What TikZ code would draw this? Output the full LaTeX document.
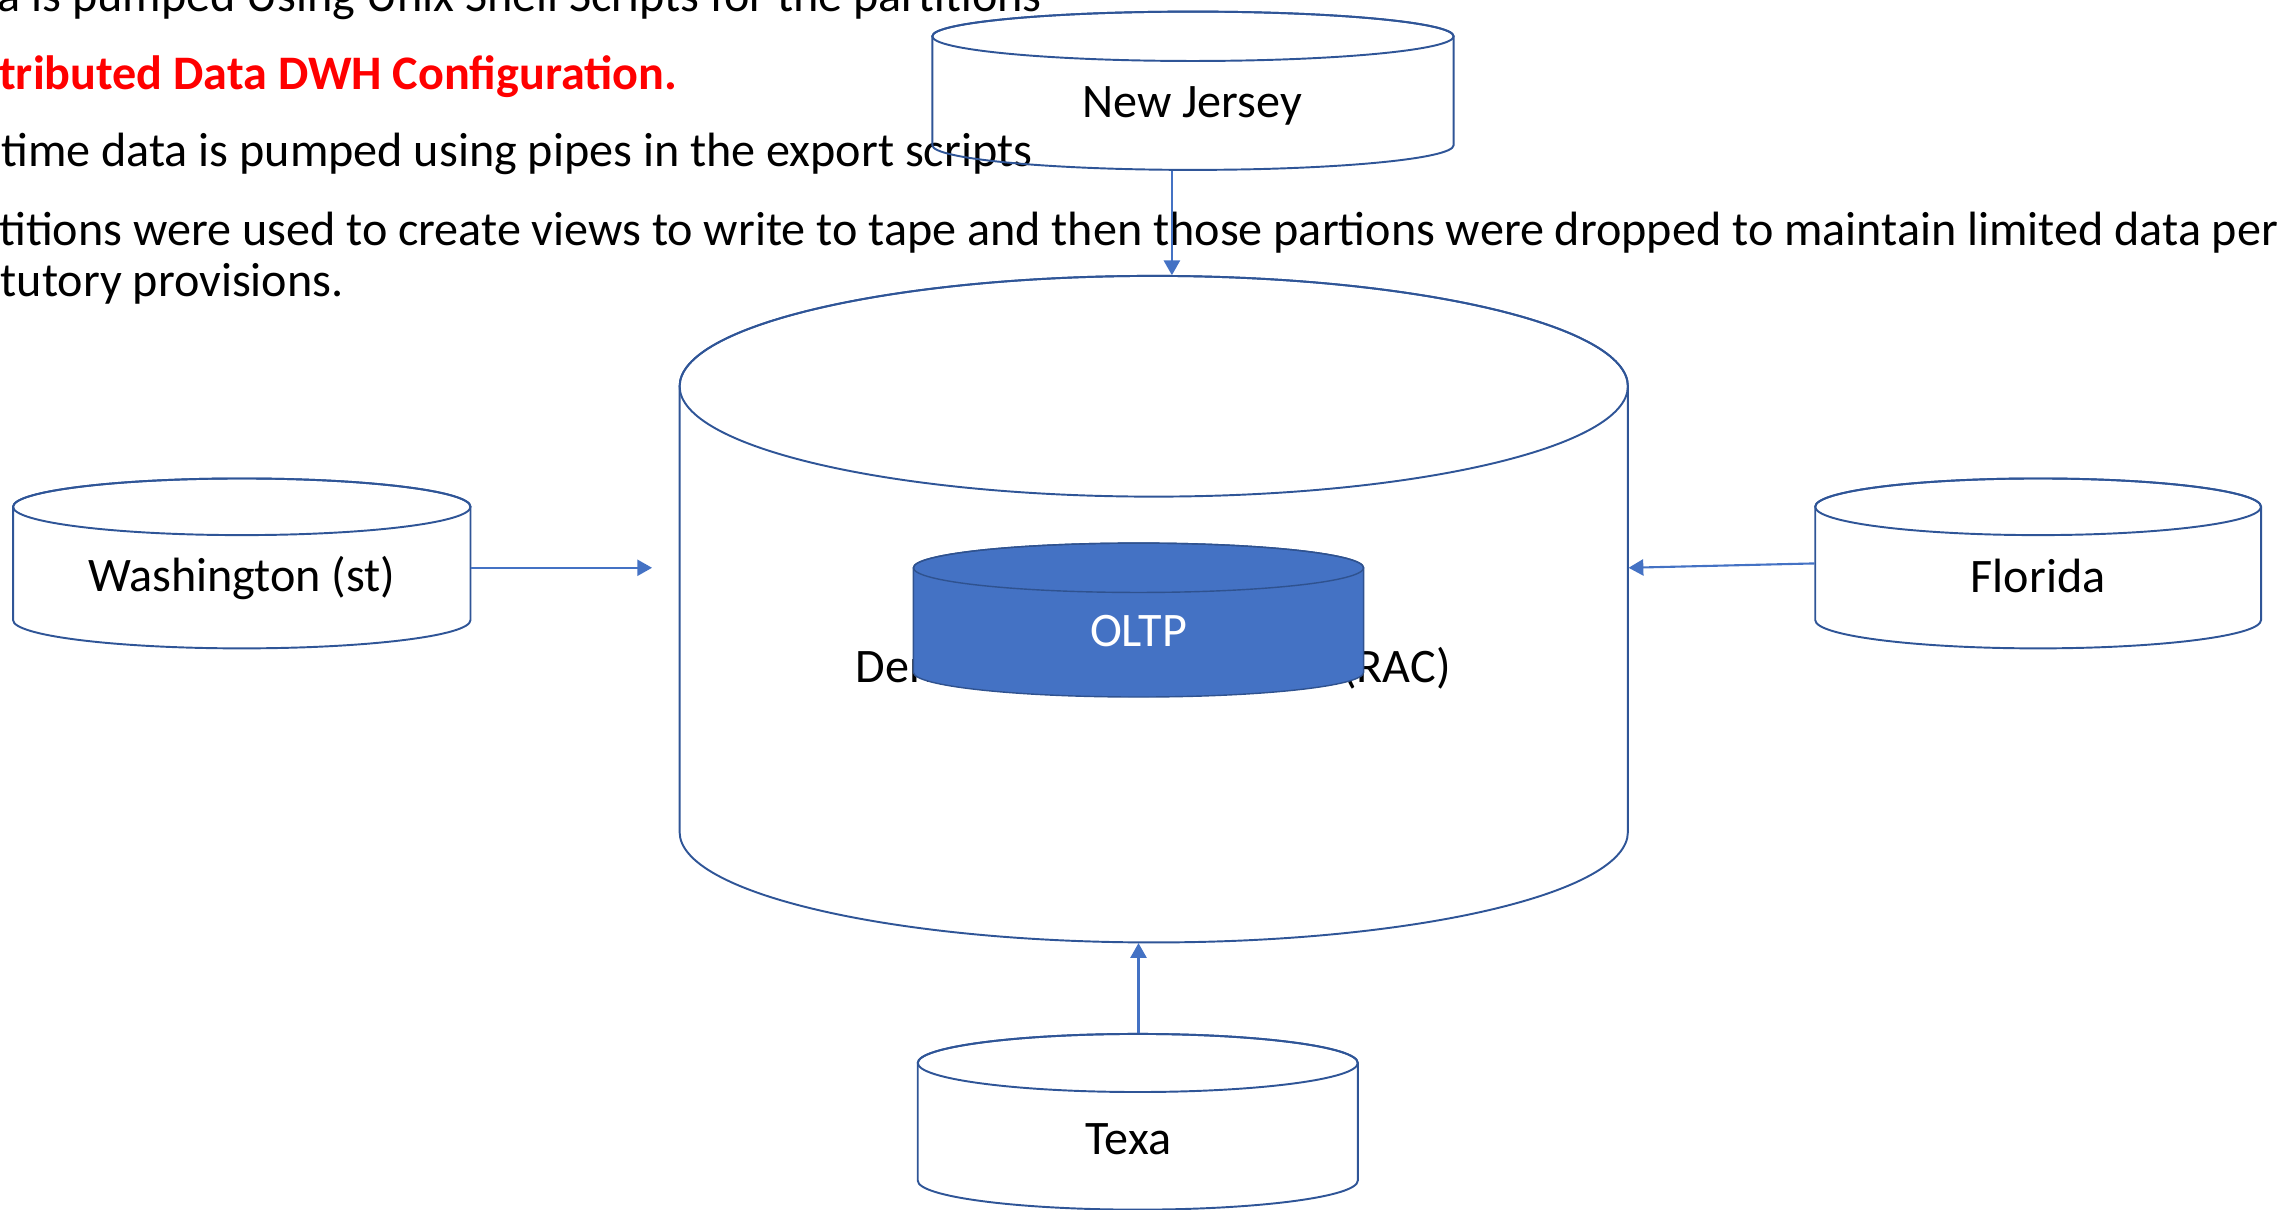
\documentclass[tikz,border=0pt]{standalone}
\usepackage{fontspec}
\setmainfont{Carlito}
\usetikzlibrary{arrows.meta,fit}

\definecolor{cylline}{HTML}{2F5597}
\definecolor{flowblue}{HTML}{4472C4}
\definecolor{oltpfill}{HTML}{4472C4}
\definecolor{oltpedge}{HTML}{2F528F}
\definecolor{headred}{HTML}{FF0000}

% database cylinder: [style] {name} {left} {right} {top centre y} {bottom centre y} {y radius}
\newcommand\dbcylinder[7][]{%
  \pgfmathsetmacro\dbcx{(#3+#4)/2}%
  \pgfmathsetmacro\dbrx{(#4-#3)/2}%
  \path[cyl,#1] (#3,#5) -- (#3,#6)
     arc[start angle=180,end angle=0,x radius=\dbrx,y radius=#7] -- (#4,#5)
     arc[start angle=360,end angle=180,x radius=\dbrx,y radius=#7] -- cycle;
  \path[cyl,#1,fill=none] (\dbcx,#5) ellipse[x radius=\dbrx,y radius=#7];
  \node[fit={(#3,{#5-#7}) (#4,{#6+#7})},inner sep=0pt,draw=none] (#2) {};
}

\begin{document}
\begin{tikzpicture}[x=0.014522cm,y=-0.014522cm,
  cyl/.style={draw=cylline,line width=0.55pt},
  txt/.style={inner sep=0pt,font=\fontsize{13.7}{16}\selectfont},
  flow/.style={draw=flowblue,line width=0.6pt,
    -{Triangle[length=4.2pt,width=4.6pt]}}]

\useasboundingbox (0,0) rectangle (1568,833);
\clip (0,0) rectangle (1568,833);

% notes above the diagram
\node[txt,anchor=base east] (note1) at (718,8)
  {ta is pumped Using Unix Shell Scripts for the partitions};
\node[txt,anchor=base west,text=headred,font=\fontsize{13.7}{16}\selectfont\bfseries] (note2) at (-1,61.5)
  {tributed Data DWH Configuration.};
\node[txt,anchor=base west] (note3) at (0.5,115)
  {time data is pumped using pipes in the export scripts};
\node[txt,anchor=base west] (note4) at (-1,169)
  {titions were used to create views to write to tape and then those partions were dropped to maintain limited data per};
\node[txt,anchor=base west] (note5) at (0,204)
  {tutory provisions.};

% regional databases
\dbcylinder{nj}{642}{1001}{25}{100}{17}
\node[txt,anchor=base] (njlbl) at (821,81) {New Jersey};

\dbcylinder{wa}{9}{324}{349}{427}{19.5}
\node[txt,anchor=base] (walbl) at (166.5,407.5) {Washington (st)};

\dbcylinder{fl}{1250}{1557}{349}{427}{19.5}
\node[txt,anchor=base] (fllbl) at (1403.5,408) {Florida};

\dbcylinder{tx}{632}{935}{732}{813}{20}
\node[txt,anchor=base] (txlbl) at (777,795) {Texa};

% central warehouse
\dbcylinder{dwh}{468}{1121}{266}{573}{76}
\node[txt,anchor=base] (dwhlbl) at (794,470) {Denver Data Warehouse (RAC)};

% OLTP store inside the warehouse
\dbcylinder[fill=oltpfill,draw=oltpedge,line width=0.4pt]{oltp}{629}{939}{391}{463}{17}
\node[txt,anchor=base,text=white] (oltplbl) at (784,445.5) {OLTP};

% feeds into the warehouse
\coordinate (njx) at (807,0);
\coordinate (txx) at (784,0);
\coordinate (midy) at (0,391);
\coordinate (waend) at (449,391);
\draw[flow] (nj.south -| njx) -- (dwh.north -| njx);
\draw[flow] (wa.east |- midy) -- (waend);
\draw[flow] (fl.west) -- (dwh.east |- midy);
\draw[flow] (tx.north -| txx) -- (dwh.south -| txx);

\end{tikzpicture}
\end{document}
